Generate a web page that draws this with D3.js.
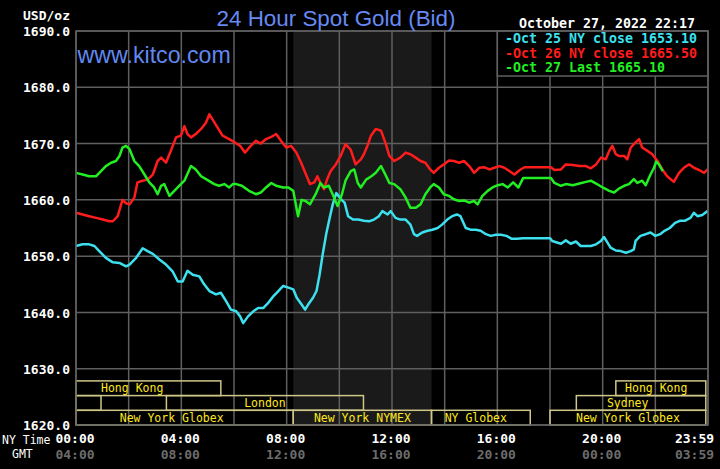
<!DOCTYPE html>
<meta charset="utf-8">
<script src="https://d3js.org/d3.v7.min.js"></script>
<style>
  body { margin: 0; background: #000; }
  svg { display: block; }
</style>
<div id="chart"></div>
<script>

// ---- data, times are New York time ----
const yTicks = [1620, 1630, 1640, 1650, 1660, 1670, 1680, 1690];
const nyTickTimes = ["0:00", "4:00", "8:00", "12:00", "16:00", "20:00", "23:59"];
const nyTickLabels = ["00:00", "04:00", "08:00", "12:00", "16:00", "20:00", "23:59"];
const gmtTickLabels = ["04:00", "08:00", "12:00", "16:00", "20:00", "00:00", "03:59"];

// Oct 25 (cyan)
const oct25Times = ["0:00","0:15","0:30","0:42","0:53","1:08","1:24","1:39","1:54","2:02","2:17","2:32","2:43","2:55","3:10","3:25","3:40","3:52","4:03","4:14","4:26","4:41","4:52","5:04","5:19","5:30","5:42","5:53","6:05","6:14","6:21","6:32","6:44","6:55","7:07","7:18","7:30","7:41","7:52","8:04","8:15","8:23","8:34","8:42","8:49","9:00","9:08","9:15","9:22","9:30","9:38","9:45","9:53","10:05","10:12","10:20","10:31","10:43","10:56","11:08","11:19","11:30","11:38","11:50","11:57","12:08","12:19","12:31","12:42","12:50","12:57","13:09","13:21","13:32","13:44","13:54","14:06","14:17","14:28","14:36","14:48","14:59","15:11","15:22","15:34","15:45","15:57","16:08","16:21","16:32","16:44","16:59","17:30","18:00","18:05","18:25","18:36","18:47","18:59","19:10","19:22","19:33","19:45","19:56","20:03","20:11","20:18","20:30","20:41","20:53","21:04","21:11","21:15","21:26","21:38","21:49","22:00","22:11","22:21","22:33","22:45","22:57","23:08","23:20","23:28","23:36","23:47","23:59"];
const oct25Values = [1651.8,1652.1,1652.1,1651.8,1650.9,1649.7,1648.9,1648.8,1648.2,1648.5,1649.7,1651.4,1650.9,1650.4,1649.4,1648.5,1647.3,1645.5,1645.5,1647.4,1646.7,1646.4,1645.0,1643.8,1643.2,1643.5,1642.0,1640.5,1640.2,1639.3,1638.1,1639.3,1640.2,1640.8,1640.8,1641.7,1642.9,1643.8,1644.7,1644.4,1644.1,1642.6,1641.4,1640.5,1641.4,1642.6,1643.8,1646.7,1650.3,1653.9,1656.8,1659.2,1661.2,1660.0,1659.5,1657.1,1656.5,1656.5,1656.3,1656.2,1656.5,1657.1,1658.0,1657.4,1658.0,1656.8,1656.5,1656.5,1655.6,1653.9,1653.6,1654.2,1654.5,1654.7,1655.0,1655.6,1656.5,1657.1,1657.4,1657.1,1655.0,1654.7,1654.7,1654.5,1653.9,1653.6,1653.8,1653.8,1653.6,1653.1,1653.1,1653.2,1653.2,1653.2,1652.7,1652.2,1652.8,1652.2,1652.6,1651.8,1651.8,1651.8,1652.1,1652.7,1653.4,1652.4,1651.5,1651.0,1650.9,1650.6,1650.9,1651.2,1652.7,1653.6,1653.9,1654.2,1653.6,1653.9,1654.5,1655.0,1655.9,1656.3,1656.3,1656.8,1657.7,1657.1,1657.3,1658.0];

// Oct 26 (red)
const oct26Times = ["0:00","0:15","0:30","0:46","1:01","1:16","1:24","1:35","1:46","1:54","2:02","2:13","2:20","2:32","2:43","2:55","3:06","3:14","3:25","3:36","3:48","3:59","4:07","4:14","4:22","4:33","4:45","4:56","5:04","5:11","5:23","5:34","5:49","6:02","6:14","6:25","6:38","6:50","7:01","7:13","7:25","7:36","7:47","7:59","8:10","8:22","8:33","8:44","8:53","9:03","9:10","9:18","9:25","9:32","9:40","9:52","10:03","10:14","10:26","10:37","10:49","10:56","11:04","11:12","11:23","11:35","11:46","11:54","12:05","12:19","12:31","12:42","12:54","13:05","13:16","13:27","13:35","13:47","13:58","14:10","14:21","14:33","14:44","14:56","15:07","15:19","15:30","15:42","15:53","16:05","16:16","16:28","16:39","16:51","17:02","18:02","18:10","18:25","18:36","18:52","19:07","19:22","19:33","19:45","19:56","20:07","20:15","20:22","20:30","20:37","20:49","20:56","21:04","21:15","21:23","21:30","21:42","21:53","22:05","22:16","22:27","22:42","22:54","23:05","23:17","23:28","23:40","23:51","23:59"];
const oct26Values = [1657.7,1657.4,1657.1,1656.8,1656.5,1656.2,1656.2,1657.1,1660.0,1659.4,1659.2,1660.4,1663.1,1663.4,1663.6,1664.5,1666.9,1667.5,1666.6,1668.7,1671.1,1671.4,1673.1,1671.7,1671.1,1671.7,1672.6,1673.7,1675.2,1674.3,1672.8,1671.4,1670.8,1670.2,1669.6,1668.4,1669.6,1670.5,1670.0,1670.8,1671.2,1671.7,1670.5,1669.3,1669.6,1668.4,1666.6,1664.5,1662.8,1663.1,1664.2,1662.8,1661.9,1663.6,1665.1,1666.3,1667.8,1669.9,1668.9,1666.3,1667.2,1668.1,1669.6,1671.4,1672.6,1672.3,1669.9,1667.8,1666.9,1667.5,1668.4,1668.1,1667.5,1666.9,1666.6,1665.4,1664.8,1665.7,1666.3,1667.0,1666.9,1666.6,1666.9,1666.0,1664.8,1665.7,1665.8,1665.4,1665.7,1666.0,1665.7,1665.1,1664.5,1665.3,1665.8,1665.8,1665.3,1665.4,1666.3,1666.2,1666.0,1666.0,1665.6,1666.3,1667.5,1667.2,1668.7,1669.6,1668.1,1667.8,1667.8,1667.2,1669.3,1670.2,1670.8,1669.3,1668.7,1668.1,1666.9,1665.4,1664.2,1663.2,1664.8,1665.7,1666.3,1665.7,1665.3,1664.8,1665.4];

// Oct 27 (green)
const oct27Times = ["0:00","0:15","0:30","0:46","0:57","1:08","1:20","1:31","1:39","1:46","1:54","2:02","2:13","2:24","2:36","2:47","2:58","3:06","3:14","3:21","3:33","3:44","3:55","4:07","4:22","4:33","4:45","5:00","5:15","5:26","5:38","5:49","5:57","6:05","6:18","6:34","6:50","7:01","7:13","7:25","7:36","7:52","8:04","8:15","8:23","8:26","8:34","8:43","8:53","9:06","9:17","9:25","9:36","9:48","9:56","10:06","10:14","10:26","10:34","10:42","10:49","11:01","11:13","11:23","11:35","11:43","11:54","12:05","12:19","12:31","12:42","12:54","13:05","13:16","13:27","13:35","13:47","13:58","14:10","14:21","14:33","14:44","14:56","15:07","15:15","15:26","15:38","15:49","16:01","16:12","16:24","16:36","16:48","16:59","18:02","18:10","18:25","18:36","18:52","19:07","19:22","19:33","19:45","20:00","20:15","20:26","20:37","20:49","21:00","21:11","21:19","21:30","21:38","21:49","21:57","22:02","22:08","22:17"];
const oct27Values = [1664.8,1664.5,1664.2,1664.2,1665.1,1666.0,1666.6,1666.9,1667.8,1669.3,1669.6,1669.0,1666.9,1666.0,1664.5,1663.1,1662.2,1661.0,1662.5,1662.8,1660.7,1661.6,1662.5,1663.4,1666.0,1665.4,1664.2,1663.5,1662.8,1662.5,1662.8,1662.2,1662.8,1662.8,1662.5,1661.6,1661.0,1661.3,1662.2,1663.0,1662.5,1662.2,1662.2,1661.6,1658.3,1657.1,1660.0,1659.8,1659.2,1661.0,1663.0,1662.2,1662.5,1660.4,1658.9,1661.0,1663.4,1665.1,1665.4,1663.0,1662.2,1663.6,1664.2,1664.8,1666.0,1664.8,1663.0,1662.8,1661.9,1660.4,1658.6,1658.6,1659.2,1661.0,1662.2,1662.8,1662.2,1661.0,1660.7,1660.1,1659.8,1659.9,1659.5,1659.8,1659.2,1660.7,1661.6,1662.2,1662.6,1662.8,1662.2,1663.1,1662.2,1663.9,1663.9,1663.0,1662.5,1662.8,1662.6,1662.9,1663.2,1663.4,1662.9,1662.2,1661.6,1661.3,1662.0,1662.5,1662.8,1663.7,1663.0,1663.4,1662.6,1664.5,1665.7,1666.8,1666.3,1665.1];

const legendLabels = ["-Oct 25 NY close 1653.10", "-Oct 26 NY close 1665.50", "-Oct 27 Last 1665.10"];

// market sessions: [row, start, end, label, label centre (null = middle)]
const sessionRows = [0, 0, 1, 1, 1, 2, 2, 2, 2];
const sessionStarts = ["0:00", "20:30", "0:00", "3:26", "19:00", "0:00", "8:15", "13:30", "18:00"];
const sessionEnds = ["5:30", "23:55", "0:57", "10:55", "23:55", "8:15", "13:30", "17:15", "23:55"];
const sessionNames = ["Hong Kong", "Hong Kong", "", "London", "Sydney", "New York Globex", "New York NYMEX", "NY Globex", "New York Globex"];
const sessionLabelAt = ["2:08", "22:02", null, null, "20:57", "3:38", null, "15:11", null];

// NYMEX pit hours (shaded)
const pitOpen = "8:15", pitClose = "13:30";

// ---- helpers ----
const toMin = s => { const p = s.split(":"); return +p[0] * 60 + +p[1]; };

const W = 720, H = 469;
const svg = d3.select("#chart").append("svg")
  .attr("width", W).attr("height", H)
  .style("background", "#000");

const x = d3.scaleLinear().domain([0, 1440]).range([76, 708]);
const y = d3.scaleLinear().domain([1620, 1690]).range([425, 31]);

const mono = "'DejaVu Sans Mono', 'Liberation Mono', monospace";
const gridColor = "#5f5f5f";

// shaded pit session
svg.append("rect")
  .attr("x", x(toMin(pitOpen)))
  .attr("y", y(1690))
  .attr("width", x(toMin(pitClose)) - x(toMin(pitOpen)))
  .attr("height", y(1620) - y(1690))
  .attr("fill", "#1a1a1a");

// grid
svg.append("g").selectAll("line")
  .data(d3.range(0, 1441, 120))
  .join("line")
  .attr("x1", d => x(d)).attr("x2", d => x(d))
  .attr("y1", y(1690)).attr("y2", y(1620))
  .attr("stroke", gridColor).attr("stroke-width", 1.5);

svg.append("g").selectAll("line")
  .data(yTicks)
  .join("line")
  .attr("x1", x(0)).attr("x2", x(1440))
  .attr("y1", d => y(d)).attr("y2", d => y(d))
  .attr("stroke", gridColor).attr("stroke-width", 1.5);

// sessions
const rowH = 14.7;
const sessions = sessionNames.map((n, i) => ({
  row: sessionRows[i], s: toMin(sessionStarts[i]), e: toMin(sessionEnds[i]),
  name: n, at: sessionLabelAt[i] ? toMin(sessionLabelAt[i]) : null
}));
const rowTop = r => y(1620) - (3 - r) * rowH;

const sg = svg.append("g");
sg.selectAll("rect")
  .data(sessions)
  .join("rect")
  .attr("x", d => x(d.s))
  .attr("y", d => rowTop(d.row))
  .attr("width", d => x(d.e) - x(d.s))
  .attr("height", rowH)
  .attr("fill", "none")
  .attr("stroke", "#cfc788")
  .attr("stroke-width", 1.5);

sg.selectAll("text")
  .data(sessions)
  .join("text")
  .attr("x", d => x(d.at != null ? d.at : (d.s + d.e) / 2))
  .attr("y", d => rowTop(d.row) + rowH - 3.5)
  .attr("text-anchor", "middle")
  .attr("font-family", mono)
  .attr("font-size", "11.5px")
  .attr("fill", "#ffe81e")
  .text(d => d.name);

// legend box (covers grid top right)
svg.append("rect")
  .attr("x", x(960)).attr("y", y(1690))
  .attr("width", x(1440) - x(960))
  .attr("height", y(1682) - y(1690))
  .attr("fill", "#000")
  .attr("stroke", gridColor).attr("stroke-width", 1.5);

// lines
const line = d3.line()
  .x(d => x(d.t))
  .y(d => y(d.v));

const series = [
  { times: oct25Times, values: oct25Values, color: "#3ce0ee" },
  { times: oct26Times, values: oct26Values, color: "#ff1c1c" },
  { times: oct27Times, values: oct27Values, color: "#22ee22" }
];

series.forEach(s => {
  const pts = s.times.map((t, i) => ({ t: toMin(t), v: s.values[i] }));
  svg.append("path")
    .datum(pts)
    .attr("d", line)
    .attr("fill", "none")
    .attr("stroke", s.color)
    .attr("stroke-width", 2.5)
    .attr("stroke-linejoin", "round");
});

// plot frame
svg.append("rect")
  .attr("x", x(0)).attr("y", y(1690))
  .attr("width", x(1440) - x(0)).attr("height", y(1620) - y(1690))
  .attr("fill", "none")
  .attr("stroke", gridColor).attr("stroke-width", 1.5);

// y axis labels
const yAxis = svg.append("g")
  .attr("transform", `translate(${x(0)},0)`)
  .call(d3.axisLeft(y).tickValues(yTicks).tickFormat(d3.format(".1f")).tickSize(0).tickPadding(6));
yAxis.select(".domain").remove();
yAxis.selectAll("text")
  .attr("font-family", mono).attr("font-size", "13px").attr("font-weight", "bold")
  .attr("fill", "#fff").attr("dy", "0.36em");

// x axis labels (NY time and GMT)
const tickMins = nyTickTimes.map(toMin);
function timeAxis(labels, pad, color) {
  const g = svg.append("g")
    .attr("transform", `translate(0,${y(1620)})`)
    .call(d3.axisBottom(x).tickValues(tickMins).tickFormat((d, i) => labels[i]).tickSize(0).tickPadding(pad));
  g.select(".domain").remove();
  g.selectAll("text")
    .attr("font-family", mono).attr("font-size", "13px").attr("font-weight", "bold")
    .attr("fill", color).attr("dx", -1.5);
  g.selectAll("text").filter((d, i) => i === labels.length - 1)
    .attr("text-anchor", "end").attr("dx", 6);
}
timeAxis(nyTickLabels, 9, "#fff");
timeAxis(gmtTickLabels, 24.5, "#6c6c6c");

svg.append("text")
  .attr("x", 2).attr("y", 444)
  .attr("font-family", mono).attr("font-size", "11.5px")
  .attr("fill", "#fff").text("NY Time");
svg.append("text")
  .attr("x", 12).attr("y", 458)
  .attr("font-family", mono).attr("font-size", "11.5px")
  .attr("fill", "#fff").text("GMT");

// top texts
svg.append("text")
  .attr("x", 70).attr("y", 19.5).attr("text-anchor", "end")
  .attr("font-family", mono).attr("font-size", "13px").attr("font-weight", "bold")
  .attr("fill", "#fff").text("USD/oz");

svg.append("text")
  .attr("x", 336).attr("y", 26).attr("text-anchor", "middle")
  .attr("font-family", "'Liberation Sans', Arial, sans-serif").attr("font-size", "22.4px")
  .attr("fill", "#6689f4").text("24 Hour Spot Gold (Bid)");

svg.append("text")
  .attr("x", 77.5).attr("y", 62.7)
  .attr("font-family", "'Liberation Sans', Arial, sans-serif").attr("font-size", "23.2px")
  .attr("fill", "#6088f0").text("www.kitco.com");

svg.append("text")
  .attr("x", 519).attr("y", 27.5)
  .attr("font-family", mono).attr("font-size", "13.3px").attr("font-weight", "bold")
  .attr("fill", "#fff").text("October 27, 2022 22:17");

svg.append("g").selectAll("text")
  .data(legendLabels)
  .join("text")
  .attr("x", 505)
  .attr("y", (d, i) => 43.3 + i * 14.2)
  .attr("font-family", mono).attr("font-size", "13.3px").attr("font-weight", "bold")
  .attr("fill", (d, i) => series[i].color)
  .text(d => d);

</script>
